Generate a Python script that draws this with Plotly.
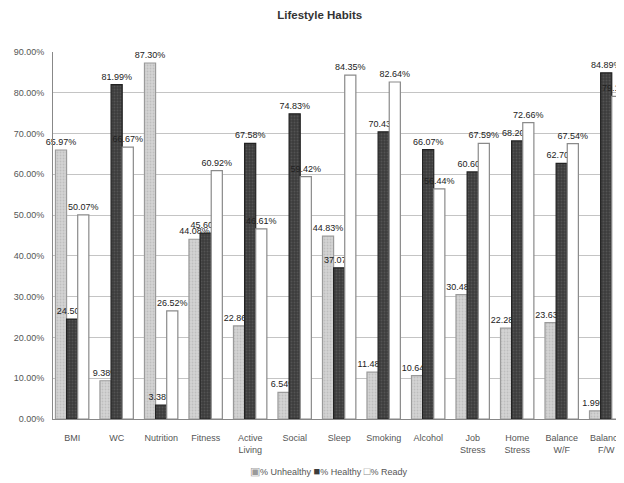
import plotly.graph_objects as go

categories = ["BMI", "WC", "Nutrition", "Fitness", "Active<br>Living", "Social", "Sleep",
              "Smoking", "Alcohol", "Job<br>Stress", "Home<br>Stress", "Balance<br>W/F", "Balance<br>F/W"]
unhealthy = [65.97, 9.38, 87.30, 44.08, 22.86, 6.54, 44.83, 11.48, 10.64, 30.48, 22.28, 23.63, 1.99]
healthy = [24.50, 81.99, 3.38, 45.60, 67.58, 74.83, 37.07, 70.43, 66.07, 60.60, 68.20, 62.70, 84.89]
ready = [50.07, 66.67, 26.52, 60.92, 46.61, 59.42, 84.35, 82.64, 56.44, 67.59, 72.66, 67.54, 79.13]
y_ticks = [0, 10, 20, 30, 40, 50, 60, 70, 80, 90]
series_names = ["% Unhealthy", "% Healthy", "% Ready"]

font = "Liberation Sans, Arial, sans-serif"
x = list(range(len(categories)))

fig = go.Figure()
styles = [
    ("#d4d4d4", "#9a9a9a", "#a8a8a8"),
    ("#3c3c3c", "#222222", "#6a6a6a"),
    ("#ffffff", "#8a8a8a", None),
]
for name, vals, (fill, line, pfg) in zip(series_names, [unhealthy, healthy, ready], styles):
    fig.add_trace(go.Bar(
        x=x, y=vals, name=name,
        marker=dict(color=fill, line=dict(color=line, width=1.2),
                    pattern=dict(shape=".", fgcolor=pfg, size=3, solidity=0.3) if pfg else None),
        text=[f"{v:.2f}%" for v in vals], textposition="outside",
        textfont=dict(family=font, size=9, color="#222"),
        cliponaxis=False, constraintext="none",
    ))

legend_text = (
    "<span style='color:#9a9a9a;font-size:11px'>▣</span>" + series_names[0] + " "
    "<span style='color:#3c3c3c;font-size:11px'>■</span>" + series_names[1] + " "
    "<span style='color:#8a8a8a;font-size:11px'>□</span>" + series_names[2]
)

fig.update_layout(
    width=616, height=475,
    margin=dict(l=45, r=0, t=44, b=64),
    paper_bgcolor="#ffffff", plot_bgcolor="#ffffff",
    barmode="group", bargap=0.25, bargroupgap=0.0,
    title=dict(text="<b>Lifestyle Habits</b>", x=0.506, xanchor="center", y=0.994, yanchor="top",
               font=dict(family=font, size=11.5, color="#333")),
    font=dict(family=font, size=9, color="#555"),
    showlegend=False,
    annotations=[dict(text=legend_text, xref="paper", yref="paper", x=0.482, y=-0.142,
                      xanchor="center", yanchor="middle", showarrow=False,
                      font=dict(family=font, size=9, color="#555"))],
)
fig.update_xaxes(
    tickmode="array", tickvals=x, ticktext=categories, automargin=False,
    range=[-0.43, 12.4], showgrid=False, showline=True, linecolor="#888", linewidth=1,
    ticks="outside", ticklen=10, tickcolor="rgba(0,0,0,0)",
    tickfont=dict(family=font, size=9, color="#555"),
)
fig.update_yaxes(
    range=[0, 90], tickvals=y_ticks, ticktext=[f"{v:.2f}%" for v in y_ticks], automargin=False,
    showgrid=True, gridcolor="#c4c4c4", gridwidth=1, showline=True, linecolor="#888",
    ticks="outside", ticklen=6, tickcolor="rgba(0,0,0,0)",
    tickfont=dict(family=font, size=9, color="#555"), zeroline=False,
)
fig.write_html("out.html")
